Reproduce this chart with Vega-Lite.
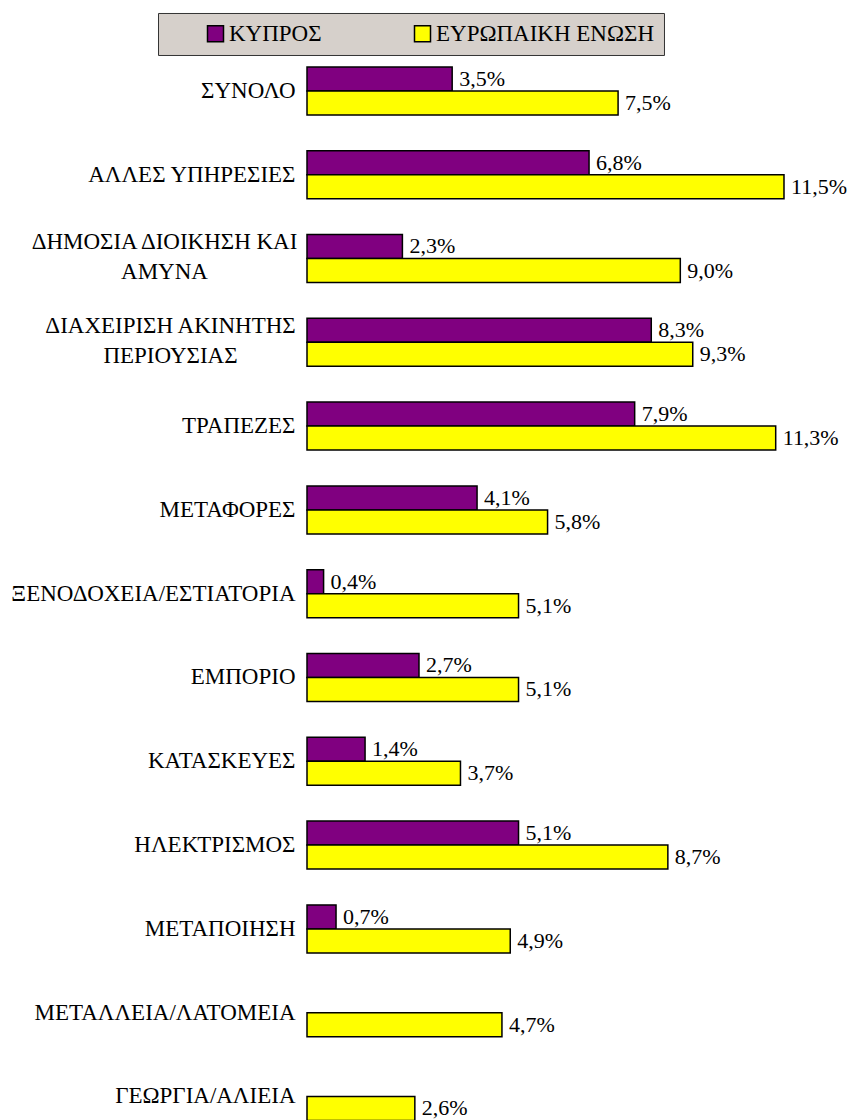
{
  "$schema": "https://vega.github.io/schema/vega-lite/v6.json",
  "width": 550,
  "height": 1089.4,
  "autosize": {"type": "none"},
  "padding": {"left": 307, "top": 49, "right": 0, "bottom": 0},
  "background": "white",
  "data": {
    "values": [
      {"sector": "ΣΥΝΟΛΟ", "region": "ΚΥΠΡΟΣ", "value": 3.5},
      {"sector": "ΣΥΝΟΛΟ", "region": "ΕΥΡΩΠΑΙΚΗ ΕΝΩΣΗ", "value": 7.5},
      {"sector": "ΑΛΛΕΣ ΥΠΗΡΕΣΙΕΣ", "region": "ΚΥΠΡΟΣ", "value": 6.8},
      {"sector": "ΑΛΛΕΣ ΥΠΗΡΕΣΙΕΣ", "region": "ΕΥΡΩΠΑΙΚΗ ΕΝΩΣΗ", "value": 11.5},
      {"sector": "ΔΗΜΟΣΙΑ ΔΙΟΙΚΗΣΗ ΚΑΙ ΑΜΥΝΑ", "region": "ΚΥΠΡΟΣ", "value": 2.3},
      {"sector": "ΔΗΜΟΣΙΑ ΔΙΟΙΚΗΣΗ ΚΑΙ ΑΜΥΝΑ", "region": "ΕΥΡΩΠΑΙΚΗ ΕΝΩΣΗ", "value": 9.0},
      {"sector": "ΔΙΑΧΕΙΡΙΣΗ ΑΚΙΝΗΤΗΣ ΠΕΡΙΟΥΣΙΑΣ", "region": "ΚΥΠΡΟΣ", "value": 8.3},
      {"sector": "ΔΙΑΧΕΙΡΙΣΗ ΑΚΙΝΗΤΗΣ ΠΕΡΙΟΥΣΙΑΣ", "region": "ΕΥΡΩΠΑΙΚΗ ΕΝΩΣΗ", "value": 9.3},
      {"sector": "ΤΡΑΠΕΖΕΣ", "region": "ΚΥΠΡΟΣ", "value": 7.9},
      {"sector": "ΤΡΑΠΕΖΕΣ", "region": "ΕΥΡΩΠΑΙΚΗ ΕΝΩΣΗ", "value": 11.3},
      {"sector": "ΜΕΤΑΦΟΡΕΣ", "region": "ΚΥΠΡΟΣ", "value": 4.1},
      {"sector": "ΜΕΤΑΦΟΡΕΣ", "region": "ΕΥΡΩΠΑΙΚΗ ΕΝΩΣΗ", "value": 5.8},
      {"sector": "ΞΕΝΟΔΟΧΕΙΑ/ΕΣΤΙΑΤΟΡΙΑ", "region": "ΚΥΠΡΟΣ", "value": 0.4},
      {"sector": "ΞΕΝΟΔΟΧΕΙΑ/ΕΣΤΙΑΤΟΡΙΑ", "region": "ΕΥΡΩΠΑΙΚΗ ΕΝΩΣΗ", "value": 5.1},
      {"sector": "ΕΜΠΟΡΙΟ", "region": "ΚΥΠΡΟΣ", "value": 2.7},
      {"sector": "ΕΜΠΟΡΙΟ", "region": "ΕΥΡΩΠΑΙΚΗ ΕΝΩΣΗ", "value": 5.1},
      {"sector": "ΚΑΤΑΣΚΕΥΕΣ", "region": "ΚΥΠΡΟΣ", "value": 1.4},
      {"sector": "ΚΑΤΑΣΚΕΥΕΣ", "region": "ΕΥΡΩΠΑΙΚΗ ΕΝΩΣΗ", "value": 3.7},
      {"sector": "ΗΛΕΚΤΡΙΣΜΟΣ", "region": "ΚΥΠΡΟΣ", "value": 5.1},
      {"sector": "ΗΛΕΚΤΡΙΣΜΟΣ", "region": "ΕΥΡΩΠΑΙΚΗ ΕΝΩΣΗ", "value": 8.7},
      {"sector": "ΜΕΤΑΠΟΙΗΣΗ", "region": "ΚΥΠΡΟΣ", "value": 0.7},
      {"sector": "ΜΕΤΑΠΟΙΗΣΗ", "region": "ΕΥΡΩΠΑΙΚΗ ΕΝΩΣΗ", "value": 4.9},
      {"sector": "ΜΕΤΑΛΛΕΙΑ/ΛΑΤΟΜΕΙΑ", "region": "ΕΥΡΩΠΑΙΚΗ ΕΝΩΣΗ", "value": 4.7},
      {"sector": "ΓΕΩΡΓΙΑ/ΑΛΙΕΙΑ", "region": "ΕΥΡΩΠΑΙΚΗ ΕΝΩΣΗ", "value": 2.6}
    ]
  },
  "transform": [
    {"calculate": "replace(format(datum.value, '.1f'), '.', ',') + '%'", "as": "label"}
  ],
  "encoding": {
    "y": {
      "field": "sector",
      "type": "nominal",
      "sort": null,
      "scale": {"paddingInner": 0.427, "paddingOuter": 0.2135},
      "axis": {
        "title": null,
        "domain": false,
        "ticks": false,
        "labelFont": "Liberation Serif",
        "labelFontSize": 23,
        "labelColor": "black",
        "labelLimit": 500,
        "labelLineHeight": 30,
        "labelExpr": "datum.value == 'ΔΗΜΟΣΙΑ ΔΙΟΙΚΗΣΗ ΚΑΙ ΑΜΥΝΑ' ? ['ΔΗΜΟΣΙΑ ΔΙΟΙΚΗΣΗ ΚΑΙ', 'ΑΜΥΝΑ'] : datum.value == 'ΔΙΑΧΕΙΡΙΣΗ ΑΚΙΝΗΤΗΣ ΠΕΡΙΟΥΣΙΑΣ' ? ['ΔΙΑΧΕΙΡΙΣΗ ΑΚΙΝΗΤΗΣ', 'ΠΕΡΙΟΥΣΙΑΣ'] : datum.value",
        "labelAlign": {
          "condition": {"test": "datum.value == 'ΔΗΜΟΣΙΑ ΔΙΟΙΚΗΣΗ ΚΑΙ ΑΜΥΝΑ' || datum.value == 'ΔΙΑΧΕΙΡΙΣΗ ΑΚΙΝΗΤΗΣ ΠΕΡΙΟΥΣΙΑΣ'", "value": "center"},
          "value": "right"
        },
        "labelPadding": {
          "condition": [
            {"test": "datum.value == 'ΔΗΜΟΣΙΑ ΔΙΟΙΚΗΣΗ ΚΑΙ ΑΜΥΝΑ'", "value": 143},
            {"test": "datum.value == 'ΔΙΑΧΕΙΡΙΣΗ ΑΚΙΝΗΤΗΣ ΠΕΡΙΟΥΣΙΑΣ'", "value": 137}
          ],
          "value": 12
        },
        "labelOffset": {
          "condition": {"test": "datum.value == 'ΔΗΜΟΣΙΑ ΔΙΟΙΚΗΣΗ ΚΑΙ ΑΜΥΝΑ' || datum.value == 'ΔΙΑΧΕΙΡΙΣΗ ΑΚΙΝΗΤΗΣ ΠΕΡΙΟΥΣΙΑΣ'", "value": -16},
          "value": 0
        }
      }
    },
    "yOffset": {
      "field": "region",
      "type": "nominal",
      "sort": ["ΚΥΠΡΟΣ", "ΕΥΡΩΠΑΙΚΗ ΕΝΩΣΗ"],
      "scale": {"paddingInner": 0, "paddingOuter": 0}
    },
    "x": {
      "field": "value",
      "type": "quantitative",
      "scale": {"domain": [0, 13.26], "nice": false, "zero": true},
      "axis": null
    }
  },
  "layer": [
    {
      "mark": {"type": "bar", "stroke": "black", "strokeWidth": 1.5, "cornerRadius": 0},
      "encoding": {
        "color": {
          "field": "region",
          "type": "nominal",
          "sort": ["ΚΥΠΡΟΣ", "ΕΥΡΩΠΑΙΚΗ ΕΝΩΣΗ"],
          "scale": {"domain": ["ΚΥΠΡΟΣ", "ΕΥΡΩΠΑΙΚΗ ΕΝΩΣΗ"], "range": ["#800080", "#ffff00"]},
          "legend": {
            "title": null,
            "orient": "none",
            "direction": "horizontal",
            "legendX": -149,
            "legendY": -36,
            "fillColor": "#d6d0cb",
            "strokeColor": "#333333",
            "padding": 9,
            "symbolType": "square",
            "symbolSize": 256,
            "symbolStrokeColor": "black",
            "symbolStrokeWidth": 1.5,
            "symbolOpacity": 1,
            "symbolOffset": 37,
            "labelOffset": 2,
            "labelFont": "Liberation Serif",
            "labelFontSize": 23,
            "labelColor": "black",
            "labelLimit": 400,
            "columnPadding": 52
          }
        }
      }
    },
    {
      "mark": {"type": "text", "align": "left", "baseline": "middle", "dx": 7, "font": "Liberation Serif", "fontSize": 22, "color": "black"},
      "encoding": {
        "text": {"field": "label", "type": "nominal"}
      }
    }
  ],
  "config": {
    "view": {"stroke": null}
  }
}
